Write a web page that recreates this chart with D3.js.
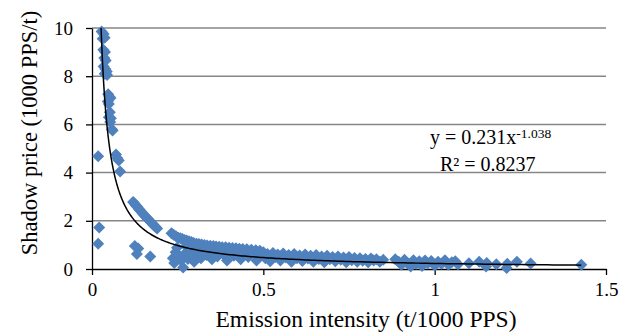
<!DOCTYPE html>
<html>
<head>
<meta charset="utf-8">
<script src="https://cdn.jsdelivr.net/npm/d3@7"></script>
<style>
  body { margin: 0; background: #fff; }
  svg { display: block; font-family: "Liberation Serif", "Times New Roman", serif; }
</style>
</head>
<body>
<div id="chart"></div>
<script>
// emission intensity (t/1000 PPS)
const emissionIntensity = [
  0.028, 0.034, 0.037, 0.031, 0.033, 0.038, 0.036, 0.040, 0.034, 0.039, 0.043, 0.037, 0.044,
  0.047, 0.051, 0.054, 0.049, 0.046, 0.052, 0.049, 0.055, 0.053, 0.058, 0.060,
  0.018, 0.070, 0.074, 0.078, 0.082, 0.021, 0.018,
  0.120, 0.124, 0.128, 0.132, 0.136, 0.140, 0.144, 0.148, 0.152, 0.156, 0.160, 0.164, 0.168,
  0.172, 0.176, 0.180, 0.185, 0.190,
  0.125, 0.131, 0.135, 0.170,
  0.232, 0.238, 0.245, 0.252, 0.258, 0.264, 0.270, 0.276, 0.283, 0.290, 0.297, 0.305, 0.312,
  0.320, 0.328, 0.336, 0.345, 0.354, 0.362, 0.371, 0.380, 0.390, 0.400, 0.410, 0.420, 0.430,
  0.440, 0.452, 0.465, 0.478, 0.490,
  0.236, 0.240, 0.244, 0.248, 0.254, 0.260, 0.266, 0.270, 0.274, 0.280, 0.286, 0.292, 0.298,
  0.304, 0.310, 0.318, 0.326, 0.334, 0.342, 0.350, 0.358, 0.366, 0.374, 0.384, 0.394, 0.404,
  0.414, 0.424, 0.434, 0.444, 0.456, 0.468, 0.480, 0.492,
  0.500, 0.506, 0.512, 0.520, 0.528, 0.535, 0.542, 0.550, 0.558, 0.566, 0.574, 0.582, 0.590,
  0.598, 0.606, 0.614, 0.622, 0.630, 0.638, 0.646, 0.654, 0.662, 0.670, 0.678, 0.686, 0.694,
  0.702, 0.710, 0.718, 0.726, 0.734, 0.742, 0.750, 0.758, 0.766, 0.774, 0.782, 0.790, 0.798,
  0.806, 0.814, 0.822, 0.830, 0.840, 0.850,
  0.885, 0.895, 0.903, 0.912, 0.920, 0.930, 0.938, 0.946, 0.955, 0.963, 0.972, 0.980, 0.990,
  1.000, 1.010, 1.020, 1.030, 1.040, 1.050, 1.060, 1.068,
  1.100, 1.130, 1.150, 1.152, 1.180, 1.210, 1.212, 1.240, 1.280, 1.428
];

// shadow price (1000 PPS/t)
const shadowPrice = [
  9.85, 9.75, 9.60, 9.55, 9.10, 9.00, 8.75, 8.65, 8.40, 8.30, 8.20, 8.10, 8.05,
  7.25, 7.15, 7.10, 6.85, 6.95, 6.50, 6.30, 6.25, 6.10, 5.80, 5.75,
  4.68, 4.75, 4.60, 4.50, 4.05, 1.72, 1.05,
  2.78, 2.72, 2.64, 2.58, 2.50, 2.44, 2.38, 2.30, 2.24, 2.18, 2.12, 2.06, 2.00,
  1.94, 1.88, 1.82, 1.75, 1.68,
  0.95, 0.62, 0.85, 0.52,
  1.48, 1.42, 1.36, 1.30, 1.28, 1.24, 1.20, 1.18, 1.15, 1.12, 1.08, 1.05, 1.04,
  1.02, 1.00, 0.98, 0.96, 0.95, 0.93, 0.92, 0.90, 0.90, 0.88, 0.87, 0.86, 0.84,
  0.83, 0.82, 0.80, 0.78, 0.76,
  0.45, 0.25, 0.70, 0.88, 0.55, 0.35, 0.06, 0.62, 0.95, 0.42, 0.78, 0.55, 0.30,
  0.85, 0.65, 0.45, 0.75, 0.58, 0.82, 0.40, 0.68, 0.52, 0.78, 0.60, 0.35, 0.70,
  0.55, 0.72, 0.40, 0.62, 0.50, 0.68, 0.35, 0.58,
  0.70, 0.45, 0.62, 0.32, 0.66, 0.50, 0.60, 0.35, 0.64, 0.48, 0.58, 0.30, 0.62,
  0.45, 0.56, 0.33, 0.60, 0.44, 0.55, 0.30, 0.58, 0.42, 0.52, 0.28, 0.55, 0.40,
  0.50, 0.32, 0.52, 0.38, 0.48, 0.28, 0.50, 0.36, 0.46, 0.30, 0.45, 0.34, 0.42,
  0.28, 0.44, 0.35, 0.40, 0.30, 0.38,
  0.40, 0.30, 0.18, 0.38, 0.25, 0.10, 0.36, 0.22, 0.32, 0.12, 0.35, 0.24, 0.33,
  0.15, 0.30, 0.22, 0.36, 0.18, 0.28, 0.32, 0.20,
  0.24, 0.30, 0.10, 0.25, 0.20, 0.04, 0.22, 0.30, 0.23, 0.18
];

const xTicks = [0, 0.5, 1, 1.5];
const yTicks = [0, 2, 4, 6, 8, 10];

// power trendline y = a * x^b
const trendA = 0.231;
const trendB = -1.038;
const trendR2 = 0.8237;

const width = 634, height = 334;
const plotLeft = 92, plotRight = 606, plotTop = 28, plotBottom = 269;

const svg = d3.select('#chart')
  .append('svg')
  .attr('width', width)
  .attr('height', height);

const x = d3.scaleLinear().domain([0, 1.5]).range([plotLeft, plotRight]);
const y = d3.scaleLinear().domain([0, 10]).range([plotBottom, plotTop]);

// gridlines
svg.append('g')
  .selectAll('line')
  .data(yTicks.filter(d => d > 0))
  .enter()
  .append('line')
  .attr('x1', plotLeft)
  .attr('x2', plotRight)
  .attr('y1', d => y(d))
  .attr('y2', d => y(d))
  .attr('stroke', '#868686')
  .attr('stroke-width', 1.5);

// y axis
const yAxis = svg.append('g')
  .attr('transform', 'translate(' + plotLeft + ',0)')
  .call(d3.axisLeft(y).tickValues(yTicks).tickFormat(d3.format('d')).tickSize(6).tickSizeOuter(0).tickPadding(13));
yAxis.select('.domain').attr('stroke', '#000').attr('stroke-width', 1.3);
yAxis.selectAll('.tick line').attr('stroke', '#000').attr('stroke-width', 1.3);
yAxis.selectAll('text')
  .attr('fill', '#000')
  .style('font-family', '"Liberation Serif", serif')
  .style('font-size', '19px');

// x axis
const xAxis = svg.append('g')
  .attr('transform', 'translate(0,' + plotBottom + ')')
  .call(d3.axisBottom(x).tickValues(xTicks).tickFormat(d => String(d)).tickSize(6).tickSizeOuter(0).tickPadding(8));
xAxis.select('.domain').attr('stroke', '#000').attr('stroke-width', 1.3);
xAxis.selectAll('.tick line').attr('stroke', '#000').attr('stroke-width', 1.3);
xAxis.selectAll('text')
  .attr('fill', '#000')
  .style('font-family', '"Liberation Serif", serif')
  .style('font-size', '19px');

// markers
const diamond = d3.symbol().type(d3.symbolSquare).size(72);
const points = emissionIntensity.map((v, i) => ({ ex: v, sp: shadowPrice[i] }));

svg.append('g')
  .selectAll('path')
  .data(points)
  .enter()
  .append('path')
  .attr('d', diamond)
  .attr('transform', d => 'translate(' + x(d.ex) + ',' + y(d.sp) + ') rotate(45)')
  .attr('fill', '#4F81BD');

// trendline, clipped to plot area
svg.append('clipPath')
  .attr('id', 'plot-clip')
  .append('rect')
  .attr('x', plotLeft)
  .attr('y', plotTop)
  .attr('width', plotRight - plotLeft)
  .attr('height', plotBottom - plotTop);

const xMin = d3.min(emissionIntensity), xMax = d3.max(emissionIntensity);
const trend = d3.range(0, 301).map(i => {
  const t = xMin * Math.pow(xMax / xMin, i / 300);
  return [t, trendA * Math.pow(t, trendB)];
});

svg.append('path')
  .datum(trend)
  .attr('clip-path', 'url(#plot-clip)')
  .attr('fill', 'none')
  .attr('stroke', '#000')
  .attr('stroke-width', 1.5)
  .attr('d', d3.line().x(d => x(d[0])).y(d => y(Math.min(d[1], 12))));

// equation
const eq = svg.append('text')
  .attr('x', 430)
  .attr('y', 144)
  .attr('fill', '#000')
  .style('font-size', '20px');
eq.append('tspan').text('y = ' + trendA + 'x');
eq.append('tspan').attr('dy', -6).style('font-size', '13.5px').text('-' + Math.abs(trendB).toFixed(3));

svg.append('text')
  .attr('x', 440)
  .attr('y', 171)
  .attr('fill', '#000')
  .style('font-size', '20px')
  .text('R² = ' + trendR2);

// axis titles
svg.append('text')
  .attr('x', 366)
  .attr('y', 327)
  .attr('text-anchor', 'middle')
  .attr('fill', '#000')
  .style('font-size', '23.5px')
  .text('Emission intensity (t/1000 PPS)');

svg.append('text')
  .attr('transform', 'translate(37,133) rotate(-90)')
  .attr('text-anchor', 'middle')
  .attr('fill', '#000')
  .style('font-size', '22.5px')
  .text('Shadow price (1000 PPS/t)');
</script>
</body>
</html>
